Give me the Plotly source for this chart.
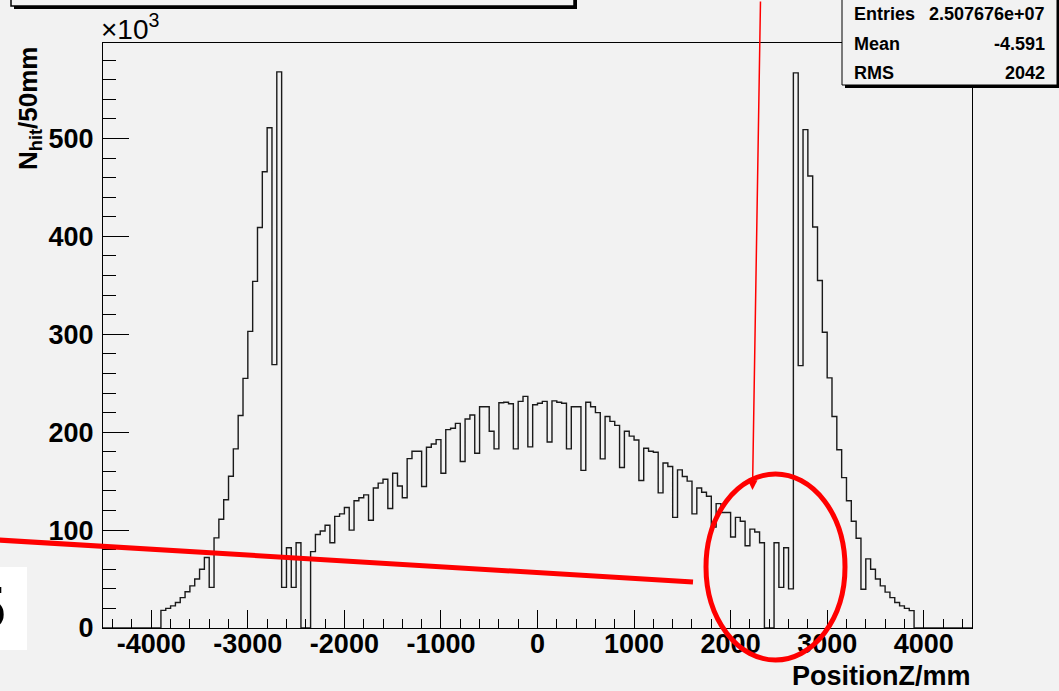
import numpy as np
import plotly.graph_objects as go

# ---------------- data (counts in units of 10^3 per 50 mm bin) ----------------
bin_width = 50
x_min, x_max = -4500, 4500
first_bin = -3900

# bins -3900 ... -2400 (left end-cap)
endcap_neg = [18, 20, 22.6, 26, 31, 37, 43, 50, 60, 72,
              41.5, 92, 111, 131, 155, 183, 217, 255, 303, 354,
              409, 466, 511, 269, 568, 41.5, 82, 41.5, 87, 0, 0]
# bins -2350 ... 2300 (barrel)
barrel = [78, 95.5, 99, 105, 87, 114, 116.6, 123, 100, 130,
          133, 136, 110, 143, 148, 152, 122, 158, 145, 133,
          173, 180.5, 180.5, 144.5, 184.6, 188, 192.4, 158, 202.6, 204,
          209, 170, 213.5, 217.6, 178.5, 226, 226, 201, 183, 230,
          230.5, 229, 183, 231.5, 236.6, 185, 228, 229.5, 231.5, 190,
          232, 230.5, 229.5, 183, 226, 226, 161, 230.5, 226, 220,
          172.7, 216, 211, 207, 164, 201, 196, 192, 150.6, 183.6,
          180.5, 179.5, 138, 168.6, 165, 113, 161.5, 154.7, 150, 116.6,
          143, 138.7, 134.6, 103, 127, 118, 118, 93, 113, 109,
          84, 101, 98, 87]
# bins 2350 ... 3850 (right end-cap)
endcap_pos = [0, 0, 87, 41.5, 82, 40, 567, 268, 509, 461.6,
              409.5, 355, 302, 255.5, 216, 182, 153.6, 130, 109, 91.7,
              39.6, 70.6, 60, 50, 43, 36.6, 31, 26, 22.6, 20, 17.7]

x_tick_vals = [-4000, -3000, -2000, -1000, 0, 1000, 2000, 3000, 4000]
x_tick_text = ["-4000", "-3000", "-2000", "-1000", "0", "1000", "2000", "3000", "4000"]
y_tick_vals = [0, 100, 200, 300, 400, 500]
y_tick_text = ["0", "100", "200", "300", "400", "500"]

stats_labels = ["Entries", "Mean", "RMS"]
stats_values = ["2.507676e+07", "-4.591", "2042"]

# ---------------- build histogram ----------------
n_bins = int((x_max - x_min) / bin_width)
edges = x_min + bin_width * np.arange(n_bins + 1)
counts = np.zeros(n_bins)
vals = endcap_neg + barrel + endcap_pos
start = int((first_bin - x_min) / bin_width)
counts[start:start + len(vals)] = vals
xs = edges
ys = np.append(counts, counts[-1])

# ---------------- layout helpers ----------------
W, H = 1059, 691
L, R, T, B = 103, 87, 43, 63
PW = W - L - R
PH = H - T - B


def fx(px):
    return (px - L) / PW


def fy(py):
    return 1 - (py - T) / PH


BG = "#f2f2f2"
FONT = "Liberation Sans, Arial, Helvetica, sans-serif"

fig = go.Figure()
fig.add_trace(go.Scatter(x=xs, y=ys, mode="lines", line=dict(shape="hv", color="#1a1a1a", width=1.4),
                         hoverinfo="skip", showlegend=False))

fig.update_layout(
    width=W, height=H,
    margin=dict(l=L, r=R, t=T, b=B, pad=0),
    paper_bgcolor=BG, plot_bgcolor=BG,
    showlegend=False,
    font=dict(family=FONT, color="black"),
)
fig.update_xaxes(
    range=[x_min, x_max], showgrid=False, zeroline=False,
    showline=True, linecolor="black", linewidth=1, mirror=True,
    ticks="inside", ticklen=18, tickwidth=1, tickcolor="black",
    tickvals=x_tick_vals, ticktext=x_tick_text,
    tickfont=dict(family=FONT, size=27, weight="bold", color="black"),
    minor=dict(ticks="inside", ticklen=9, dtick=200, tick0=0, tickcolor="black", tickwidth=1, showgrid=False),
)
fig.update_yaxes(
    range=[0, 597.5], showgrid=False, zeroline=False,
    showline=True, linecolor="black", linewidth=1, mirror=True,
    ticks="inside", ticklen=26, tickwidth=1, tickcolor="black",
    tickvals=y_tick_vals, ticktext=y_tick_text,
    tickfont=dict(family=FONT, size=27, weight="bold", color="black"),
    minor=dict(ticks="inside", ticklen=13, dtick=20, tick0=0, tickcolor="black", tickwidth=1, showgrid=False),
)
try:
    fig.update_xaxes(ticklabelstandoff=-8)
except Exception:
    fig.update_xaxes(ticklabelstandoff=0)
try:
    fig.update_yaxes(ticklabelstandoff=3)
except Exception:
    pass

shapes = []
# title box (top-left, mostly cut off) with shadow
shapes.append(dict(type="rect", xref="paper", yref="paper", x0=fx(14), x1=fx(577), y0=fy(-30), y1=fy(9),
                   fillcolor="black", line=dict(width=0), layer="above"))
shapes.append(dict(type="rect", xref="paper", yref="paper", x0=fx(11), x1=fx(574), y0=fy(-30), y1=fy(6),
                   fillcolor=BG, line=dict(color="black", width=1.5), layer="above"))
# stats box with shadow
shapes.append(dict(type="rect", xref="paper", yref="paper", x0=fx(845), x1=fx(1060), y0=fy(-10), y1=fy(88),
                   fillcolor="black", line=dict(width=0), layer="above"))
shapes.append(dict(type="rect", xref="paper", yref="paper", x0=fx(842), x1=fx(1057), y0=fy(-10), y1=fy(85),
                   fillcolor=BG, line=dict(color="black", width=1), layer="above"))
# white box with "5"
shapes.append(dict(type="rect", xref="paper", yref="paper", x0=fx(-5), x1=fx(27), y0=fy(567), y1=fy(650),
                   fillcolor="white", line=dict(width=0), layer="above"))
# red annotations
shapes.append(dict(type="line", xref="paper", yref="paper", x0=fx(-2), y0=fy(540), x1=fx(693), y1=fy(582),
                   line=dict(color="#ff0000", width=5), layer="above"))
shapes.append(dict(type="circle", xref="paper", yref="paper", x0=fx(706), x1=fx(845), y0=fy(474), y1=fy(660),
                   line=dict(color="#ff0000", width=5), layer="above"))
fig.update_layout(shapes=shapes)

ann = []
ann.append(dict(xref="paper", yref="paper", x=fx(752.5), y=fy(490), ax=8, ay=-495, text="",
                showarrow=True, arrowhead=2, arrowsize=1.3, arrowwidth=1.5, arrowcolor="#ff0000"))
ann.append(dict(xref="paper", yref="paper", x=fx(99), y=fy(47), text="×10<sup>3</sup>", showarrow=False,
                xanchor="left", yanchor="bottom", font=dict(family=FONT, size=28, color="black")))
ann.append(dict(xref="paper", yref="paper", x=fx(29), y=fy(109), text="N<sub>hit</sub>/50mm", showarrow=False,
                textangle=-90, xanchor="center", yanchor="middle",
                font=dict(family=FONT, size=26, weight="bold", color="black")))
ann.append(dict(xref="paper", yref="paper", x=fx(973), y=fy(676), text="PositionZ/mm", showarrow=False,
                xanchor="right", yanchor="middle",
                font=dict(family=FONT, size=27, weight="bold", color="black")))
ann.append(dict(xref="paper", yref="paper", x=fx(7), y=fy(607), text="5", showarrow=False,
                xanchor="right", yanchor="middle",
                font=dict(family=FONT, size=60, weight="bold", color="black")))
for i, (lab, val) in enumerate(zip(stats_labels, stats_values)):
    yc = 14 + 29.5 * i
    ann.append(dict(xref="paper", yref="paper", x=fx(852), y=fy(yc), text=lab, showarrow=False,
                    xanchor="left", yanchor="middle", font=dict(family=FONT, size=18, weight="bold", color="black")))
    ann.append(dict(xref="paper", yref="paper", x=fx(1047), y=fy(yc), text=val, showarrow=False,
                    xanchor="right", yanchor="middle", font=dict(family=FONT, size=18, weight="bold", color="black")))
fig.update_layout(annotations=ann)

fig.write_html("out.html")
